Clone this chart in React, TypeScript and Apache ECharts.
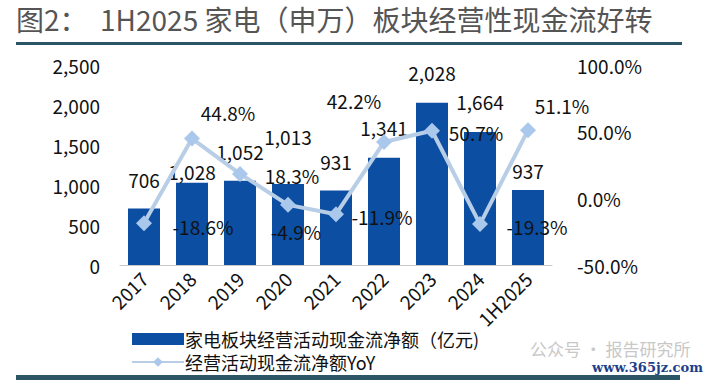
import React, { useEffect, useRef } from "react";
import * as echarts from "echarts";

const categories = ["2017", "2018", "2019", "2020", "2021", "2022", "2023", "2024", "1H2025"];
const cashFlow = [706, 1028, 1052, 1013, 931, 1341, 2028, 1664, 937];
const yoy = [-18.6, 44.8, 18.3, -4.9, -11.9, 42.2, 50.7, -19.3, 51.1];
const barName = "家电板块经营活动现金流净额（亿元)";
const lineName = "经营活动现金流净额YoY";
const titleText = "图2：  1H2025 家电（申万）板块经营性现金流好转";

// label placement (style only)
const barLabelDistance = [20, 2, 20, 38, 20, 21, 21, 21, 10];
const yoyLabelOffset = [[59, 3], [36, -26], [52, 2], [8, 27], [46, 2], [-30, -42], [44, 2], [57, 2], [34, -25]];

const FONT = "'Noto Sans CJK SC', 'Noto Sans', sans-serif";

export default function App() {
  const ref = useRef<HTMLDivElement>(null);
  useEffect(() => {
    if (!ref.current) return;
    const chart = echarts.init(ref.current, null, { renderer: "svg" });
    const fmtComma = (v: number) => v.toLocaleString("en-US");
    chart.setOption({
      animation: false,
      backgroundColor: "#ffffff",
      textStyle: { fontFamily: FONT },
      grid: { left: 120, right: 159, top: 65, bottom: 118, containLabel: false },
      legend: {
        orient: "vertical",
        left: 131,
        top: 329,
        padding: 0,
        itemGap: 3,
        itemWidth: 52,
        itemHeight: 12,
        height: 50,
        textStyle: { fontSize: 18, color: "#111", fontFamily: FONT, padding: [0, 0, 0, -4], lineHeight: 20 },
        data: [
          { name: barName, icon: "rect" },
          { name: lineName },
        ],
      },
      xAxis: {
        type: "category",
        data: categories,
        axisLine: { show: true, lineStyle: { color: "#c8c8c8", width: 1 } },
        axisTick: { show: false },
        axisLabel: { rotate: 45, fontSize: 19, color: "#111", margin: 10, fontFamily: FONT },
      },
      yAxis: [
        {
          type: "value",
          min: 0,
          max: 2500,
          interval: 500,
          splitLine: { show: false },
          axisLine: { show: false },
          axisTick: { show: false },
          axisLabel: { fontSize: 19, color: "#111", margin: 20, formatter: fmtComma, fontFamily: FONT },
        },
        {
          type: "value",
          min: -50,
          max: 100,
          interval: 50,
          splitLine: { show: false },
          axisLine: { show: false },
          axisTick: { show: false },
          axisLabel: { fontSize: 19, color: "#111", margin: 25, formatter: (v: number) => v.toFixed(1) + "%", fontFamily: FONT },
        },
      ],
      series: [
        {
          name: barName,
          type: "bar",
          barWidth: 32,
          itemStyle: { color: "#0b4ea2" },
          data: cashFlow.map((v, i) => ({
            value: v,
            label: { show: true, position: "top", distance: barLabelDistance[i] },
          })),
          label: { fontSize: 19, color: "#111", formatter: (p: any) => fmtComma(p.value), fontFamily: FONT },
          z: 2,
        },
        {
          name: lineName,
          type: "line",
          yAxisIndex: 1,
          symbol: "diamond",
          symbolSize: 16,
          lineStyle: { color: "#b8cde6", width: 4 },
          itemStyle: { color: "#aac7ec" },
          data: yoy.map((v, i) => ({
            value: v,
            label: { show: true, position: "inside", offset: yoyLabelOffset[i] },
          })),
          label: { fontSize: 19, color: "#111", formatter: (p: any) => p.value.toFixed(1) + "%", fontFamily: FONT },
          z: 3,
        },
      ],
      graphic: [
        {
          type: "text",
          left: 16,
          top: 5,
          style: { text: titleText, fontSize: 28, fill: "#555555", fontFamily: FONT, fontWeight: "normal" },
        },
        {
          type: "rect",
          shape: { x: 16, y: 42, width: 666, height: 3 },
          style: { fill: "#2c5566" },
        },
        {
          type: "rect",
          shape: { x: 16, y: 375, width: 664, height: 5 },
          style: { fill: "#2c5566" },
        },
        {
          type: "text",
          left: 530,
          top: 340,
          style: { text: "公众号 · 报告研究所", fontSize: 17, fill: "#c8c8c8", fontFamily: FONT },
        },
        {
          type: "text",
          left: 592,
          top: 361,
          style: { text: "www.365jz.com", fontSize: 13, fill: "#1d3f8a", fontFamily: "'DejaVu Serif', serif", fontWeight: "bold" },
        },
      ],
    });
    return () => chart.dispose();
  }, []);
  return <div ref={ref} style={{ width: 711, height: 383, position: "absolute", left: 0, top: 0 }} />;
}
